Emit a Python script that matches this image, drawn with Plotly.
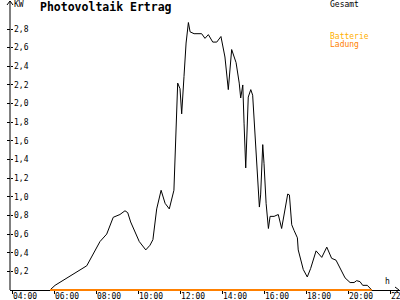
import plotly.graph_objects as go

# ---- data ----
hours = [5.81, 6.05, 7.56, 7.87, 8.19, 8.51, 8.82, 9.14, 9.38, 9.51, 9.65, 10.06,
         10.37, 10.57, 10.71, 10.89, 11.10, 11.29, 11.49, 11.71, 11.81, 11.89, 12.00,
         12.08, 12.19, 12.29, 12.40, 12.48, 12.67, 13.03, 13.19, 13.35, 13.56, 13.75,
         13.95, 14.14, 14.30, 14.46, 14.67, 14.82, 14.89, 14.99, 15.05, 15.13, 15.25,
         15.37, 15.46, 15.62, 15.78, 15.84, 15.94, 16.00, 16.10, 16.21, 16.29, 16.48,
         16.68, 16.84, 17.00, 17.13, 17.21, 17.32, 17.43, 17.59, 17.63, 17.87, 18.06,
         18.22, 18.48, 18.75, 18.99, 19.22, 19.43, 19.62, 19.86, 20.10, 20.29, 20.41,
         20.57, 20.70, 20.92, 21.13]
gesamt = [0.00, 0.05, 0.26, 0.38, 0.52, 0.60, 0.78, 0.81, 0.85, 0.83, 0.73, 0.52,
          0.43, 0.48, 0.54, 0.87, 1.07, 0.93, 0.87, 1.07, 1.68, 2.22, 2.16,
          1.89, 2.29, 2.65, 2.87, 2.77, 2.75, 2.75, 2.70, 2.74, 2.66, 2.66,
          2.72, 2.50, 2.15, 2.58, 2.44, 2.22, 2.06, 2.20, 1.79, 1.31, 2.07,
          2.15, 2.09, 1.54, 0.89, 1.02, 1.56, 1.36, 0.93, 0.66, 0.79, 0.79,
          0.81, 0.66, 0.89, 1.03, 1.02, 0.70, 0.64, 0.56, 0.43, 0.22, 0.14,
          0.23, 0.42, 0.35, 0.46, 0.34, 0.32, 0.23, 0.13, 0.08, 0.08, 0.10,
          0.09, 0.05, 0.05, 0.00]
ladung_hours = [5.81, 21.13]
ladung = [0.0, 0.0]

x_tick_vals = [4, 6, 8, 10, 12, 14, 16, 18, 20, 22]
x_tick_text = ["04:00", "06:00", "08:00", "10:00", "12:00", "14:00", "16:00",
               "18:00", "20:00", "22:00"]
y_tick_vals = [0.2, 0.4, 0.6, 0.8, 1.0, 1.2, 1.4, 1.6, 1.8, 2.0, 2.2, 2.4, 2.6, 2.8]
y_tick_text = ["0,2", "0,4", "0,6", "0,8", "1,0", "1,2", "1,4", "1,6", "1,8",
               "2,0", "2,2", "2,4", "2,6", "2,8"]

# ---- layout helpers ----
W, H, L = 400, 300, 10
FONT = "DejaVu Sans Mono"
X_RANGE = [3.9048, 22.476]
Y_RANGE = [-0.1073, 3.1116]


def pxx(x):
    return (x - L) / (W - L)


def pxy(y):
    return 1 - y / H


fig = go.Figure()
fig.add_trace(go.Scatter(x=hours, y=gesamt, mode="lines",
                         line=dict(color="black", width=1), hoverinfo="skip"))
fig.add_trace(go.Scatter(x=ladung_hours, y=ladung, mode="lines", yaxis="y2",
                         line=dict(color="#FF8000", width=2), hoverinfo="skip"))

fig.update_layout(
    width=W, height=H, autosize=False,
    margin=dict(l=L, r=0, t=0, b=0, pad=0, autoexpand=False),
    paper_bgcolor="white", plot_bgcolor="white",
    showlegend=False,
    font=dict(family=FONT, size=8, color="black"),
    xaxis=dict(range=X_RANGE, anchor="free", position=10 / H, automargin=False,
               showline=True, linecolor="black", linewidth=1,
               ticks="outside", ticklen=3, tickwidth=1, tickcolor="black",
               tickmode="array", tickvals=x_tick_vals, ticktext=x_tick_text,
               tickfont=dict(family=FONT, size=8, color="black"),
               ticklabelshift=13, ticklabelstandoff=-5,
               ticklabeloverflow="allow",
               showgrid=False, zeroline=False, layer="below traces"),
    yaxis=dict(range=Y_RANGE, anchor="free", position=0, automargin=False,
               showline=False, ticks="outside", ticklen=3, tickwidth=1,
               tickcolor="black",
               tickmode="array", tickvals=y_tick_vals, ticktext=y_tick_text,
               ticklabelposition="inside", ticklabeloverflow="allow",
               tickfont=dict(family=FONT, size=8, color="black"),
               showgrid=False, zeroline=False),
    yaxis2=dict(range=Y_RANGE, overlaying="y", anchor="free", position=0,
                automargin=False,
                side="left", showline=False, ticks="inside", ticklen=2,
                tickwidth=1, tickcolor="black",
                tickmode="array", tickvals=y_tick_vals,
                showticklabels=False, showgrid=False, zeroline=False),
)

# axis line (y) and arrow heads
fig.add_shape(type="line", xref="paper", yref="paper",
              x0=pxx(10), x1=pxx(10), y0=pxy(290), y1=pxy(1),
              line=dict(color="black", width=1))
fig.add_shape(type="path", xref="paper", yref="paper",
              path=f"M {pxx(7)} {pxy(5)} L {pxx(10)} {pxy(1)} L {pxx(13)} {pxy(5)}",
              line=dict(color="black", width=1))
fig.add_shape(type="path", xref="paper", yref="paper",
              path=f"M {pxx(395)} {pxy(287)} L {pxx(399)} {pxy(290)} L {pxx(395)} {pxy(293)}",
              line=dict(color="black", width=1))


def label(text, x, y, size=8, color="black", bold=False):
    fig.add_annotation(text=f"<b>{text}</b>" if bold else text,
                       xref="paper", yref="paper", x=pxx(x), y=pxy(y),
                       xanchor="left", yanchor="middle", showarrow=False,
                       borderpad=0,
                       font=dict(family=FONT, size=size, color=color))


label("KW", 13, 4.5)
label("Photovoltaik Ertrag", 39, 7, size=11.5, bold=True)
label("Gesamt", 329, 4.5)
label("Batterie", 329, 36, color="#FFB000")
label("Ladung", 329, 44, color="#FF8000")
label("h", 384, 281.5)

fig.write_html("out.html")
